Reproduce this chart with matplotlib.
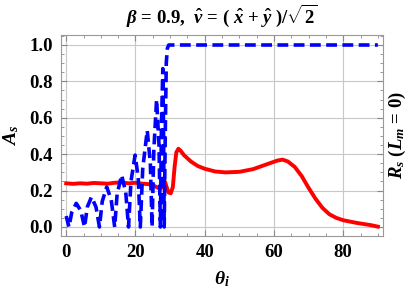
import matplotlib
matplotlib.use('Agg')
import matplotlib.pyplot as plt
from matplotlib.ticker import MultipleLocator

plt.rcParams['font.family'] = ['Liberation Serif', 'DejaVu Serif']
plt.rcParams['font.weight'] = 'bold'
plt.rcParams['mathtext.fontset'] = 'custom'
plt.rcParams['mathtext.rm'] = 'Liberation Serif:bold'
plt.rcParams['mathtext.it'] = 'Liberation Serif:italic:bold'
plt.rcParams['mathtext.bf'] = 'Liberation Serif:bold'

# A_s, red solid curve
theta_red = [0, 2, 4, 6, 8, 10, 12, 14, 16, 18, 20, 22, 24, 25.5, 26.5, 27.3,
             28, 28.5, 29, 29.5, 30.2, 30.8, 31.3, 31.8, 32.4, 33, 34, 36, 38,
             40, 43, 46, 50, 54, 58, 61, 62.5, 64, 66, 68, 70, 72, 74, 76, 78,
             80, 84, 88, 90]
a_s = [0.24, 0.237, 0.24, 0.238, 0.242, 0.24, 0.238, 0.243, 0.245, 0.24, 0.243,
       0.238, 0.235, 0.225, 0.215, 0.21, 0.24, 0.25, 0.22, 0.19, 0.185, 0.22,
       0.33, 0.41, 0.43, 0.42, 0.395, 0.36, 0.335, 0.32, 0.305, 0.30, 0.303,
       0.318, 0.345, 0.365, 0.37, 0.36, 0.33, 0.28, 0.215, 0.155, 0.105, 0.07,
       0.05, 0.037, 0.022, 0.01, 0.002]

# R_s (L_m = 0), blue dashed curve
theta_blue = [0, 0.4, 0.8, 1.6, 2.9, 4.2, 5.3, 6.1, 7.3, 8.6, 9.6, 10.4, 11.7,
              13.0, 14.0, 14.7, 16.0, 17.2, 18.0, 18.7, 19.9, 20.8, 21.4, 22.1,
              23.4, 24.3, 24.8, 25.3, 26.1, 26.8, 27.2, 27.5, 27.9, 28.1, 28.3,
              28.6, 28.9, 29.2, 29.6, 90]
r_s = [0.06, 0.03, 0.0, 0.08, 0.13, 0.09, 0.0, 0.11, 0.165, 0.11, 0.0, 0.14,
       0.22, 0.15, 0.0, 0.18, 0.285, 0.19, 0.0, 0.25, 0.395, 0.27, 0.0, 0.32,
       0.53, 0.35, 0.0, 0.42, 0.70, 0.45, 0.0, 0.55, 0.87, 0.55, 0.0, 0.5,
       0.9, 0.98, 1.0, 1.0]

fig = plt.figure(figsize=(4.15, 2.94), dpi=100)
ax = fig.add_axes([0.147, 0.197, 0.776, 0.684])

ax.plot(theta_red, a_s, color='red', lw=2.8)
ax.plot(theta_blue, r_s, color='blue', lw=2.6, ls=(0, (3.0, 1.5)))

ax.set_xlim(-1.5, 91.5)
ax.set_ylim(-0.05, 1.055)
ax.xaxis.set_major_locator(MultipleLocator(20))
ax.xaxis.set_minor_locator(MultipleLocator(5))
ax.yaxis.set_major_locator(MultipleLocator(0.2))
ax.yaxis.set_minor_locator(MultipleLocator(0.05))
ax.yaxis.set_major_formatter(matplotlib.ticker.FormatStrFormatter('%.1f'))
ax.grid(True, which='major', color='#c8c8c8', lw=0.8)
ax.set_axisbelow(True)
ax.tick_params(which='both', direction='in', top=True, right=True,
               color='#888888', labelsize=13.5, pad=6)
ax.tick_params(which='major', length=4)
ax.tick_params(which='minor', length=2.5)
for s in ax.spines.values():
    s.set_color('#999999')

ax.set_xlabel(r'$\theta_i$', fontsize=14, labelpad=6)
ax.set_ylabel(r'$A_s$', fontsize=14, labelpad=6)
ax.set_title(r'$\beta$ = 0.9,  $\hat{v}$ = ( $\hat{x}$ + $\hat{y}$ )/$\sqrt{2}$',
             fontsize=13.5, fontweight='bold', pad=9)
fig.text(0.958, 0.54, r'$R_s$ ($L_m$ = 0)', rotation=90, fontsize=13.5,
         ha='center', va='center')

plt.savefig('out.png', dpi=100)
